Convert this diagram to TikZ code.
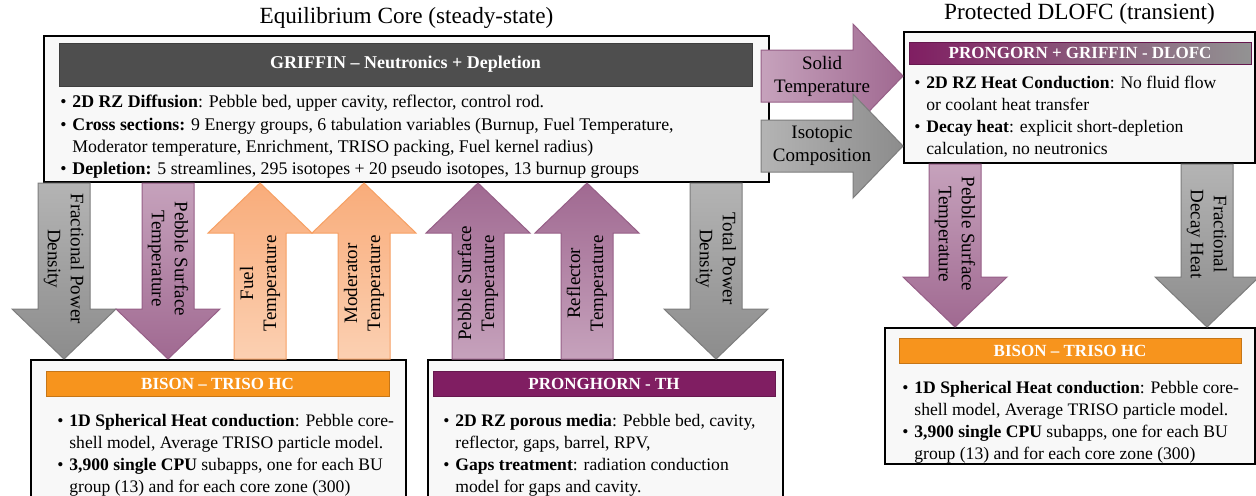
\documentclass[tikz,border=0pt]{standalone}
\usepackage{fontspec}
\setmainfont{Liberation Serif}
\usetikzlibrary{positioning,calc}
\definecolor{hdrgray}{RGB}{78,78,78}
\definecolor{hdrorange}{RGB}{247,148,29}
\definecolor{hdrpurple}{RGB}{128,30,98}
\definecolor{mauvelight}{RGB}{198,162,188}
\definecolor{mauvedark}{RGB}{160,105,145}
\definecolor{mauveline}{RGB}{150,95,135}
\definecolor{graylight}{RGB}{180,180,180}
\definecolor{graydark}{RGB}{140,140,140}
\definecolor{grayline}{RGB}{125,125,125}
\definecolor{orangelight}{RGB}{251,208,178}
\definecolor{orangedark}{RGB}{249,172,122}
\definecolor{orangeline}{RGB}{246,160,100}
\definecolor{panelfill}{RGB}{248,248,248}
\newcommand{\bul}{\makebox[6pt][l]{\textbullet}}
\newcommand{\cont}{\hspace*{6pt}}
% fat block arrow from #2 to #3, label #4
\newcommand{\fatarrow}[4][]{%
  \draw[fatbody,#1] let \p1=(#2), \p2=(#3), \p3=($(\p2)!25pt!(\p1)$),
      \n1={atan2(\y2-\y1,\x2-\x1)} in
    ($(\p1)!13pt!90:(\p2)$) -- ($(\p3)!13pt!90:(\p2)$) -- ($(\p3)!26pt!90:(\p2)$)
    -- (\p2) -- ($(\p3)!26pt!-90:(\p2)$) -- ($(\p3)!13pt!-90:(\p2)$)
    -- ($(\p1)!13pt!-90:(\p2)$) -- cycle
    ($(\p1)!0.43!(\p2)$) node[arrowtext, rotate=\n1] {#4};}
\tikzset{
  panel/.style={rectangle, draw=black, line width=1pt, fill=panelfill, anchor=north west, inner sep=0pt},
  hdr/.style={rectangle, draw=#1!80!black, fill=#1, text=white, line width=0.5pt, inner sep=0pt,
              font=\fontsize{8.5}{10}\selectfont\bfseries},
  bullets/.style={anchor=north west, inner sep=0pt, align=left, font=\fontsize{8.8}{11}\selectfont},
  title/.style={font=\fontsize{11.6}{13}\selectfont, inner sep=0pt},
  fatbody/.style={line width=0.5pt},
  graydown/.style={draw=grayline, top color=graylight, bottom color=graydark},
  mauvedown/.style={draw=mauveline, top color=mauvelight, bottom color=mauvedark},
  mauveup/.style={draw=mauveline, top color=mauvedark, bottom color=mauvelight},
  orangeup/.style={draw=orangeline, top color=orangedark, bottom color=orangelight},
  mauveright/.style={draw=mauveline, left color=mauvelight, right color=mauvedark},
  grayright/.style={draw=grayline, left color=graylight, right color=graydark},
  arrowtext/.style={font=\fontsize{9.5}{11.5}\selectfont, align=center, text=black, inner sep=0pt},
}
\begin{document}
\begin{tikzpicture}[x=0.5pt,y=-0.5pt]
\useasboundingbox (0,0) rectangle (1256,495);
% panels
\node[panel, minimum width=362.5pt, minimum height=73pt] (core) at (43,35) {};
\node[panel, minimum width=175.5pt, minimum height=65.5pt] (dlofc) at (903,31) {};
\node[panel, minimum width=187.5pt, minimum height=72pt] (bisona) at (30,359) {};
\node[panel, minimum width=177.5pt, minimum height=72pt] (pronghorn) at (427,359) {};
\node[panel, minimum width=185pt, minimum height=68pt] (bisonb) at (884,327) {};
\node[title, above=3pt of core] (coretitle) {Equilibrium Core (steady-state)};
\node[title, above=3pt of dlofc] (dlofctitle) {Protected DLOFC (transient)};
% headers
\node[hdr=hdrgray, minimum width=346.5pt, minimum height=21.5pt, font=\fontsize{9}{11}\selectfont\bfseries]
  (griffin) at (405.5,64.5) {GRIFFIN -- Neutronics + Depletion};
\node[hdr=hdrpurple, left color=hdrpurple, right color=gray!85, minimum width=171pt, minimum height=11pt]
  (dlofchdr) at (1080,53) {PRONGORN + GRIFFIN - DLOFC};
\node[hdr=hdrorange, minimum width=171.5pt, minimum height=12.5pt] (bisonahdr) at (217.5,383.5) {BISON -- TRISO HC};
\node[hdr=hdrpurple, minimum width=171pt, minimum height=12.5pt] (pronghdr) at (604,383.5) {PRONGHORN - TH};
\node[hdr=hdrorange, minimum width=171pt, minimum height=12.5pt] (bisonbhdr) at (1070,350.5) {BISON -- TRISO HC};
% bullet texts
\node[bullets, font=\fontsize{8.9}{11.1}\selectfont] (corelist) at (60,95) {%
  \bul\textbf{2D RZ Diffusion}: Pebble bed, upper cavity, reflector, control rod.\\
  \bul\textbf{Cross sections:} 9 Energy groups, 6 tabulation variables (Burnup, Fuel Temperature,\\
  \cont Moderator temperature, Enrichment, TRISO packing, Fuel kernel radius)\\
  \bul\textbf{Depletion:} 5 streamlines, 295 isotopes + 20 pseudo isotopes, 13 burnup groups};
\node[bullets] (dlofclist) at (914,76) {%
  \bul\textbf{2D RZ Heat Conduction}: No fluid flow\\
  \cont or coolant heat transfer\\
  \bul\textbf{Decay heat}: explicit short-depletion\\
  \cont calculation, no neutronics};
\node[bullets] (bisonalist) at (57,414) {%
  \bul\textbf{1D Spherical Heat conduction}: Pebble core-\\
  \cont shell model, Average TRISO particle model.\\
  \bul\textbf{3,900 single CPU} subapps, one for each BU\\
  \cont group (13) and for each core zone (300)};
\node[bullets] (pronglist) at (443,414) {%
  \bul\textbf{2D RZ porous media}: Pebble bed, cavity,\\
  \cont reflector, gaps, barrel, RPV,\\
  \bul\textbf{Gaps treatment}: radiation conduction\\
  \cont model for gaps and cavity.};
\node[bullets] (bisonblist) at (902,381) {%
  \bul\textbf{1D Spherical Heat conduction}: Pebble core-\\
  \cont shell model, Average TRISO particle model.\\
  \bul\textbf{3,900 single CPU} subapps, one for each BU\\
  \cont group (13) and for each core zone (300)};
% coupling arrows
\fatarrow[graydown]{core.south -| 64,0}{bisona.north -| 64,0}{Fractional Power\\Density}
\fatarrow[mauvedown]{core.south -| 168,0}{bisona.north -| 168,0}{Pebble Surface\\Temperature}
\fatarrow[orangeup]{bisona.north -| 260,0}{core.south -| 260,0}{Fuel\\Temperature}
\fatarrow[orangeup]{bisona.north -| 364,0}{core.south -| 364,0}{Moderator\\Temperature}
\fatarrow[mauveup]{pronghorn.north -| 478,0}{core.south -| 478,0}{Pebble Surface\\Temperature}
\fatarrow[mauveup]{pronghorn.north -| 587,0}{core.south -| 587,0}{Reflector\\Temperature}
\fatarrow[graydown]{core.south -| 716,0}{pronghorn.north -| 716,0}{Total Power\\Density}
\fatarrow[mauveright]{$(core.east |- 0,76)+(-9,0)$}{dlofc.west |- 0,76}{Solid\\Temperature}
\fatarrow[grayright]{$(core.east |- 0,146)+(-9,0)$}{dlofc.west |- 0,146}{Isotopic\\Composition}
\fatarrow[mauvedown]{dlofc.south -| 955,0}{bisonb.north -| 955,0}{Pebble Surface\\Temperature}
\fatarrow[graydown]{dlofc.south -| 1207,0}{bisonb.north -| 1207,0}{Fractional\\Decay Heat}
\end{tikzpicture}
\end{document}
